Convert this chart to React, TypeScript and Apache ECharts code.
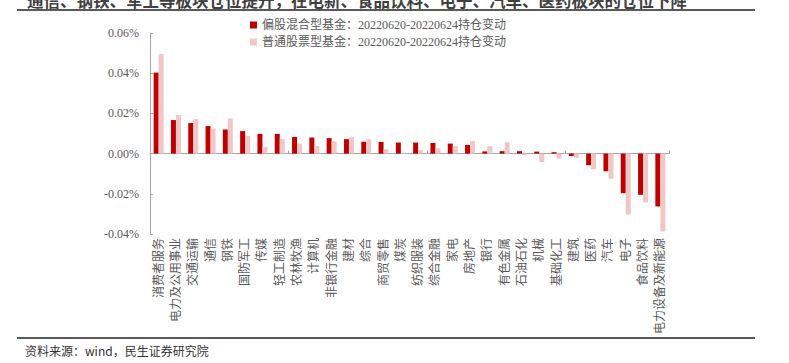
import React, { useEffect, useRef } from "react";
import * as echarts from "echarts";

const categories = [
  "消费者服务", "电力及公用事业", "交通运输", "通信", "钢铁", "国防军工", "传媒", "轻工制造",
  "农林牧渔", "计算机", "非银行金融", "建材", "综合", "商贸零售", "煤炭", "纺织服装",
  "综合金融", "家电", "房地产", "银行", "有色金属", "石油石化", "机械", "基础化工",
  "建筑", "医药", "汽车", "电子", "食品饮料", "电力设备及新能源",
];

const seriesNames = [
  "偏股混合型基金：20220620-20220624持仓变动",
  "普通股票型基金：20220620-20220624持仓变动",
];

const mixedFund = [
  0.0403, 0.0167, 0.0152, 0.0137, 0.012, 0.0112, 0.0098, 0.0098, 0.0083, 0.008,
  0.0077, 0.0072, 0.0059, 0.0058, 0.0055, 0.0055, 0.0053, 0.005, 0.0043, 0.0011,
  0.0012, 0.0012, 0.001, 0.0007, -0.0012, -0.0058, -0.0088, -0.0197, -0.0205, -0.0263,
];

const stockFund = [
  0.0495, 0.0192, 0.0172, 0.0125, 0.0175, 0.0087, 0.0033, 0.0072, 0.005, 0.0038,
  0.0062, 0.0082, 0.0072, 0.0022, 0.0005, 0.0017, 0.0027, 0.0037, 0.0062, 0.0037,
  0.0057, -0.0008, -0.0042, -0.0025, -0.0022, -0.0078, -0.0125, -0.0303, -0.0243, -0.0387,
];

const titleText = "通信、钢铁、军工等板块仓位提升，在电新、食品饮料、电子、汽车、医药板块的仓位下降";
const sourceText = "资料来源：wind，民生证券研究院";

const serif = "'Times New Roman', 'Liberation Serif', 'Noto Sans CJK SC', serif";
const sans = "'Noto Sans CJK SC', 'Noto Sans', sans-serif";

export default function App() {
  const ref = useRef<HTMLDivElement>(null);
  useEffect(() => {
    document.body.style.margin = "0";
    if (!ref.current) return;
    const chart = echarts.init(ref.current, null, { renderer: "svg" });
    chart.setOption({
      animation: false,
      backgroundColor: "#ffffff",
      grid: { left: 150, right: 120, top: 33, bottom: 129, containLabel: false },
      legend: {
        orient: "vertical",
        left: 245,
        top: 14,
        itemWidth: 7,
        itemHeight: 7,
        itemGap: 5,
        icon: "rect",
        textStyle: { color: "#595959", fontSize: 12, fontFamily: serif },
        data: seriesNames,
      },
      xAxis: [
        {
          type: "category",
          data: categories,
          axisLine: { onZero: true, lineStyle: { color: "#A6A6A6", width: 1 } },
          axisTick: { show: true, inside: true, length: 3, lineStyle: { color: "#A6A6A6" } },
          axisLabel: { show: false },
        },
        {
          type: "category",
          data: categories,
          position: "bottom",
          offset: 0,
          axisLine: { show: false, onZero: false },
          axisTick: { show: false },
          axisLabel: {
            rotate: 90,
            margin: 4,
            interval: 0,
            color: "#595959",
            fontSize: 12,
            fontFamily: serif,
          },
        },
      ],
      yAxis: {
        type: "value",
        min: -0.04,
        max: 0.06,
        interval: 0.02,
        splitLine: { show: false },
        axisLine: { show: true, lineStyle: { color: "#A6A6A6" } },
        axisTick: { show: true, inside: true, length: 3, lineStyle: { color: "#A6A6A6" } },
        axisLabel: {
          margin: 11,
          color: "#595959",
          fontSize: 12,
          fontFamily: serif,
          formatter: (v: number) => v.toFixed(2) + "%",
        },
      },
      series: [
        {
          name: seriesNames[0],
          type: "bar",
          xAxisIndex: 0,
          data: mixedFund,
          barWidth: 5,
          barGap: "0%",
          itemStyle: { color: "#C00000" },
        },
        {
          name: seriesNames[1],
          type: "bar",
          xAxisIndex: 0,
          data: stockFund,
          barWidth: 5,
          barGap: "0%",
          itemStyle: { color: "#F0C6C6" },
        },
      ],
      graphic: [
        {
          type: "text",
          left: 27,
          top: -8,
          style: {
            text: titleText,
            fill: "#404040",
            fontSize: 16.5,
            fontWeight: "bold",
            fontFamily: sans,
          },
        },
        {
          type: "line",
          shape: { x1: 17, y1: 10, x2: 755, y2: 10 },
          style: { stroke: "#595959", lineWidth: 2 },
        },
        {
          type: "line",
          shape: { x1: 17, y1: 338, x2: 755, y2: 338 },
          style: { stroke: "#595959", lineWidth: 2 },
        },
        {
          type: "text",
          left: 25,
          top: 344,
          style: {
            text: sourceText,
            fill: "#333333",
            fontSize: 12,
            fontFamily: sans,
          },
        },
      ],
    });
    return () => chart.dispose();
  }, []);
  return <div ref={ref} style={{ width: 789, height: 363 }} />;
}
